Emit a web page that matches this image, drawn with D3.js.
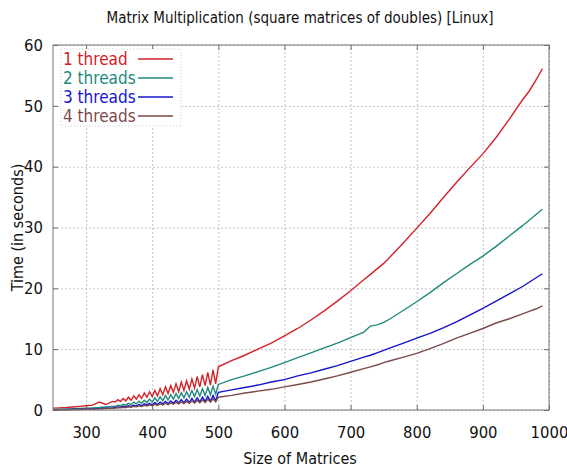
<!DOCTYPE html>
<html>
<head>
<meta charset="utf-8">
<script src="https://cdn.jsdelivr.net/npm/d3@7/dist/d3.min.js"></script>
<style>
    body { margin: 0; background: #fff; }
    svg text { font-family: 'DejaVu Sans Condensed', 'DejaVu Sans', sans-serif; font-stretch: condensed; }
    .grid line { stroke: #c4c4c4; stroke-dasharray: 2,2; }
    .grid path, .ticks path { stroke: none; }
    .ticks line { stroke: #6e6e6e; }
    .axis path { stroke: none; }
    .axis text { font-size: 16.5px; fill: #111; }
    .line { fill: none; stroke-width: 1.4; }
</style>
</head>
<body>
<div id="chart"></div>
<script>
// matrix sizes (x values shared by every series)
const sizes = [
    250, 260, 270, 280, 290, 300, 310, 320, 330, 340,
    344, 348, 352, 356, 360, 364, 368, 372, 376, 380, 384, 388, 392, 396, 400,
    404, 408, 412, 416, 420, 424, 428, 432, 436, 440, 444, 448, 452, 456, 460,
    464, 468, 472, 476, 480, 484, 488, 492, 496, 500,
    520, 540, 560, 580, 600, 620, 640, 660, 680, 700, 720, 730, 740, 750, 760,
    780, 800, 820, 840, 860, 880, 900, 920, 940, 960, 970, 980, 990
];

const oneThread = [
    0.3, 0.35, 0.4, 0.5, 0.6, 0.7, 0.8, 1.3, 0.9, 1.4,
    1.3, 1.7, 1.4, 1.9, 1.5, 2.1, 1.6, 2.3, 1.8, 2.5, 1.9, 2.8, 2.1, 3.0, 2.2,
    3.2, 2.3, 3.5, 2.5, 3.8, 2.7, 4.0, 2.9, 4.3, 3.0, 4.6, 3.2, 4.8, 3.4, 5.1,
    3.6, 5.5, 3.8, 5.8, 4.0, 6.2, 4.1, 6.6, 4.3, 7.1,
    8.1, 9.0, 10.0, 11.0, 12.2, 13.4, 14.8, 16.3, 17.9, 19.6, 21.4, 22.3, 23.2, 24.1, 25.2,
    27.5, 29.9, 32.3, 34.9, 37.4, 39.8, 42.1, 44.8, 47.8, 51.0, 52.4, 54.2, 56.1
];

const twoThreads = [
    0.1, 0.12, 0.15, 0.2, 0.25, 0.3, 0.35, 0.4, 0.5, 0.6,
    0.6, 0.8, 0.7, 0.95, 0.8, 1.1, 0.9, 1.3, 1.0, 1.45, 1.1, 1.6, 1.2, 1.8, 1.3,
    2.0, 1.4, 2.2, 1.5, 2.4, 1.65, 2.5, 1.8, 2.7, 1.9, 2.85, 2.0, 3.0, 2.1, 3.2,
    2.2, 3.35, 2.3, 3.5, 2.4, 3.7, 2.5, 3.9, 2.6, 4.2,
    5.0, 5.6, 6.3, 7.0, 7.8, 8.6, 9.4, 10.2, 11.0, 11.9, 12.8, 13.8, 14.0, 14.4, 15.0,
    16.4, 17.8, 19.3, 20.9, 22.4, 23.9, 25.3, 26.9, 28.6, 30.3, 31.2, 32.1, 33.0
];

const threeThreads = [
    0.05, 0.06, 0.08, 0.1, 0.12, 0.15, 0.18, 0.22, 0.28, 0.35,
    0.4, 0.5, 0.45, 0.6, 0.5, 0.7, 0.6, 0.8, 0.65, 0.9, 0.7, 1.0, 0.8, 1.1, 0.85,
    1.2, 0.9, 1.3, 1.0, 1.4, 1.05, 1.5, 1.1, 1.6, 1.15, 1.7, 1.2, 1.8, 1.25, 1.9,
    1.3, 2.0, 1.35, 2.1, 1.4, 2.25, 1.45, 2.4, 1.5, 2.9,
    3.3, 3.7, 4.1, 4.6, 5.0, 5.6, 6.1, 6.7, 7.3, 8.0, 8.7, 9.0, 9.4, 9.8, 10.2,
    11.0, 11.8, 12.6, 13.5, 14.5, 15.6, 16.7, 17.9, 19.1, 20.3, 21.0, 21.7, 22.4
];

const fourThreads = [
    0.03, 0.04, 0.05, 0.07, 0.09, 0.12, 0.15, 0.18, 0.22, 0.28,
    0.3, 0.38, 0.35, 0.45, 0.4, 0.52, 0.46, 0.6, 0.52, 0.68, 0.58, 0.76, 0.64, 0.85, 0.7,
    0.92, 0.76, 1.0, 0.82, 1.08, 0.88, 1.16, 0.94, 1.24, 1.0, 1.32, 1.05, 1.4, 1.1, 1.48,
    1.15, 1.56, 1.2, 1.65, 1.25, 1.75, 1.3, 1.85, 1.35, 2.1,
    2.4, 2.8, 3.1, 3.4, 3.8, 4.2, 4.6, 5.1, 5.6, 6.2, 6.8, 7.1, 7.4, 7.8, 8.1,
    8.7, 9.3, 10.1, 10.9, 11.8, 12.6, 13.4, 14.3, 15.0, 15.8, 16.2, 16.6, 17.1
];

const seriesNames = ['1 thread', '2 threads', '3 threads', '4 threads'];
const seriesColors = ['#d3222a', '#1f8a7c', '#1414cc', '#7d4a4a'];
const xTicks = [300, 400, 500, 600, 700, 800, 900, 1000];
const yTicks = [0, 10, 20, 30, 40, 50, 60];

const series = [oneThread, twoThreads, threeThreads, fourThreads].map(function (vals, i) {
    return {
        name: seriesNames[i],
        color: seriesColors[i],
        values: sizes.map(function (s, j) { return { size: s, time: vals[j] }; })
    };
});

const margin = { top: 45, right: 18, bottom: 60, left: 53 };
const width = 567 - margin.left - margin.right;
const height = 470 - margin.top - margin.bottom;

const x = d3.scaleLinear()
    .range([0, width])
    .domain([250, 1000]);

const y = d3.scaleLinear()
    .range([height, 0])
    .domain([0, 60]);

const root = d3.select('#chart').append('svg')
    .attr('width', 567)
    .attr('height', 470);

root.append('text')
    .attr('x', 300)
    .attr('y', 23)
    .style('text-anchor', 'middle')
    .style('font-size', '15px')
    .attr('fill', '#111')
    .text('Matrix Multiplication (square matrices of doubles) [Linux]');

const svg = root.append('g')
    .attr('transform', 'translate(' + margin.left + ',' + margin.top + ')');

// ... dotted grid

svg.append('g')
    .attr('class', 'grid')
    .attr('transform', 'translate(0,' + height + ')')
    .call(d3.axisBottom(x).tickValues(xTicks).tickSize(-height).tickFormat(''));

svg.append('g')
    .attr('class', 'grid')
    .call(d3.axisLeft(y).tickValues(yTicks).tickSize(-width).tickFormat(''));

// ... inward tick marks on all four sides

svg.append('g').attr('class', 'ticks')
    .attr('transform', 'translate(0,' + height + ')')
    .call(d3.axisBottom(x).tickValues(xTicks).tickSize(-5).tickFormat(''));
svg.append('g').attr('class', 'ticks')
    .call(d3.axisTop(x).tickValues(xTicks).tickSize(-5).tickFormat(''));
svg.append('g').attr('class', 'ticks')
    .call(d3.axisLeft(y).tickValues(yTicks).tickSize(-5).tickFormat(''));
svg.append('g').attr('class', 'ticks')
    .attr('transform', 'translate(' + width + ',0)')
    .call(d3.axisRight(y).tickValues(yTicks).tickSize(-5).tickFormat(''));

// ... tick labels

svg.append('g')
    .attr('class', 'x axis')
    .attr('transform', 'translate(0,' + height + ')')
    .call(d3.axisBottom(x).tickValues(xTicks).tickSize(0).tickPadding(16).tickFormat(d3.format('d')));

svg.append('g')
    .attr('class', 'y axis')
    .call(d3.axisLeft(y).tickValues(yTicks).tickSize(0).tickPadding(10).tickFormat(d3.format('d')));

// ... the four lines

const line = d3.line()
    .x(function (d) { return x(d.size); })
    .y(function (d) { return y(d.time); });

svg.selectAll('.line')
    .data(series)
    .enter().append('path')
    .attr('class', 'line')
    .attr('stroke', function (d) { return d.color; })
    .attr('d', function (d) { return line(d.values); });

// ... outline

svg.append('rect')
    .attr('x', 0)
    .attr('y', 0)
    .attr('width', width)
    .attr('height', height)
    .attr('fill', 'none')
    .attr('stroke', '#777')
    .attr('stroke-width', 1);

// ... legend

const legend = svg.append('g')
    .attr('transform', 'translate(8,4)');

legend.append('rect')
    .attr('width', 120)
    .attr('height', 77)
    .attr('fill', '#fff')
    .attr('stroke', '#cfcfcf')
    .attr('stroke-dasharray', '1,2');

const rows = legend.selectAll('.row')
    .data(series)
    .enter().append('g')
    .attr('class', 'row')
    .attr('transform', function (d, i) { return 'translate(0,' + (10 + i * 19) + ')'; });

rows.append('text')
    .attr('x', 2)
    .attr('dy', '0.35em')
    .style('font-size', '17px')
    .attr('fill', function (d) { return d.color; })
    .text(function (d) { return d.name; });

rows.append('line')
    .attr('x1', 77)
    .attr('x2', 112)
    .attr('stroke', function (d) { return d.color; })
    .attr('stroke-width', 1.4);

// ... axis titles

root.append('text')
    .attr('x', 300)
    .attr('y', 464)
    .style('text-anchor', 'middle')
    .style('font-size', '16px')
    .attr('fill', '#111')
    .text('Size of Matrices');

root.append('text')
    .attr('transform', 'translate(23,' + (margin.top + height / 2) + ') rotate(-90)')
    .style('text-anchor', 'middle')
    .style('font-size', '16px')
    .attr('fill', '#111')
    .text('Time (in seconds)');
</script>
</body>
</html>
